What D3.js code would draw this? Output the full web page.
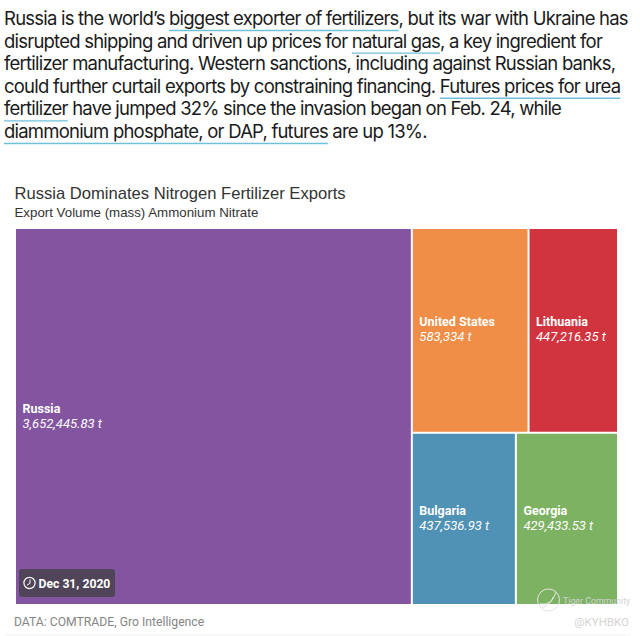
<!DOCTYPE html>
<html>
<head>
<meta charset="utf-8">
<script src="https://cdnjs.cloudflare.com/ajax/libs/d3/7.8.5/d3.min.js"></script>
<style>
    html, body { margin: 0; padding: 0; background: #fff; }
    #chart { width: 640px; height: 636px; overflow: hidden; }
    svg { display: block; }
    .intro { font-family: Inter, sans-serif; font-size: 18.5px; fill: #1a1a1a; letter-spacing: -0.78px; }
    .title { font-family: "Liberation Sans", sans-serif; font-size: 16.6px; fill: #333; }
    .subtitle { font-family: "Liberation Sans", sans-serif; font-size: 13.3px; fill: #333; }
    .name { font-family: Roboto, sans-serif; font-size: 12.5px; font-weight: 700; fill: #fff; }
    .amount { font-family: Roboto, sans-serif; font-size: 13px; font-style: italic; fill: #fff; }
    .source { font-family: Roboto, sans-serif; font-size: 12.2px; fill: #858585; }
    .mark { font-family: Roboto, sans-serif; font-size: 8.8px; fill: #d4d4d4; }
</style>
</head>
<body>
<div id="chart"></div>
<script>
const introLines = [
    "Russia is the world’s biggest exporter of fertilizers, but its war with Ukraine has",
    "disrupted shipping and driven up prices for natural gas, a key ingredient for",
    "fertilizer manufacturing. Western sanctions, including against Russian banks,",
    "could further curtail exports by constraining financing. Futures prices for urea",
    "fertilizer have jumped 32% since the invasion began on Feb. 24, while",
    "diammonium phosphate, or DAP, futures are up 13%."
];
// [line index, linked phrase]
const links = [
    [0, "biggest exporter of fertilizers"],
    [1, "natural gas"],
    [3, "Futures prices for urea"],
    [4, "fertilizer"],
    [5, "diammonium phosphate, or DAP, futures"]
];

const countries = ["Russia", "United States", "Lithuania", "Bulgaria", "Georgia"];
const volumes = [3652445.83, 583334, 447216.35, 437536.93, 429433.53];
const volumeLabels = ["3,652,445.83 t", "583,334 t", "447,216.35 t", "437,536.93 t", "429,433.53 t"];
const colors = ["#8355a0", "#f08d46", "#d1343f", "#4f92b6", "#7cb262"];

const width = 640;
const height = 636;
const margin = {top: 229, left: 16, right: 23, bottom: 32};

const svg = d3.select("#chart")
    .append("svg")
    .attr("width", width)
    .attr("height", height);

// Intro paragraph
const lineY = d3.scaleLinear().domain([0, 5]).range([25, 138]);

const intro = svg.selectAll(".intro")
    .data(introLines)
    .enter()
    .append("text")
        .attr("class", "intro")
        .attr("x", 4)
        .attr("y", function(d, i) { return lineY(i); })
        .text(function(d) { return d; });

// Underlines are measured off the rendered text
links.forEach(function(l) {
    const node = intro.nodes()[l[0]];
    const start = introLines[l[0]].indexOf(l[1]);
    const x0 = 4 + (start > 0 ? node.getSubStringLength(0, start) : 0);
    const x1 = x0 + node.getSubStringLength(start, l[1].length);
    svg.append("line")
        .attr("x1", x0)
        .attr("x2", x1)
        .attr("y1", lineY(l[0]) + 5.5)
        .attr("y2", lineY(l[0]) + 5.5)
        .attr("stroke", "#6fc0dc")
        .attr("stroke-width", 1.4);
});

// Title
svg.append("text").attr("class", "title").attr("x", 14.5).attr("y", 199)
    .text("Russia Dominates Nitrogen Fertilizer Exports");
svg.append("text").attr("class", "subtitle").attr("x", 14.5).attr("y", 217)
    .text("Export Volume (mass) Ammonium Nitrate");

// Treemap
const root = d3.hierarchy({children: countries.map(function(c, i) { return {index: i}; })})
    .sum(function(d) { return d.children ? 0 : volumes[d.index]; });

d3.treemap()
    .tile(d3.treemapBinary)
    .size([width - margin.left - margin.right, height - margin.top - margin.bottom])
    .paddingInner(2)
    .round(false)(root);

const cell = svg.selectAll(".cell")
    .data(root.leaves())
    .enter()
    .append("g")
        .attr("class", "cell")
        .attr("transform", function(d) {
            return `translate(${margin.left + d.x0},${margin.top + d.y0})`;
        });

cell.append("rect")
    .attr("width", function(d) { return d.x1 - d.x0; })
    .attr("height", function(d) { return d.y1 - d.y0; })
    .attr("fill", function(d) { return colors[d.data.index]; });

cell.append("text")
    .attr("class", "name")
    .attr("x", 6.5)
    .attr("y", function(d) { return (d.y1 - d.y0) / 2 - 4; })
    .text(function(d) { return countries[d.data.index]; });

cell.append("text")
    .attr("class", "amount")
    .attr("x", 6.5)
    .attr("y", function(d) { return (d.y1 - d.y0) / 2 + 11; })
    .text(function(d) { return volumeLabels[d.data.index]; });

// Date badge
const badge = svg.append("g").attr("transform", "translate(19,569)");
badge.append("rect")
    .attr("width", 96)
    .attr("height", 28)
    .attr("rx", 3)
    .attr("fill", "#4f4458");
badge.append("circle")
    .attr("cx", 10.5).attr("cy", 14).attr("r", 5.6)
    .attr("fill", "none").attr("stroke", "#fff").attr("stroke-width", 1.2);
badge.append("path")
    .attr("d", "M11,10.5V14.3L8,16.2")
    .attr("fill", "none").attr("stroke", "#fff").attr("stroke-width", 1);
badge.append("text")
    .attr("x", 19.5)
    .attr("y", 18.5)
    .attr("font-family", "Roboto, sans-serif")
    .attr("font-size", 12.2)
    .attr("font-weight", 700)
    .attr("fill", "#fff")
    .text("Dec 31, 2020");

// Source
svg.append("text").attr("class", "source").attr("x", 14).attr("y", 626)
    .text("DATA: COMTRADE, Gro Intelligence");

// Watermark
const mark = svg.append("g");
mark.append("circle")
    .attr("cx", 548.5).attr("cy", 600).attr("r", 11)
    .attr("fill", "none").attr("stroke", "#e4e4e4").attr("stroke-width", 1);
mark.append("path")
    .attr("d", "M540,604Q552,606 556,592M541,608Q552,604 553,597")
    .attr("fill", "none").attr("stroke", "#e4e4e4").attr("stroke-width", 1);
mark.append("text").attr("class", "mark").attr("x", 563).attr("y", 604).text("Tiger Community");
mark.append("text").attr("class", "mark").attr("x", 629).attr("y", 626)
    .attr("text-anchor", "end").style("font-size", "11.5px").text("@KYHBKO");

svg.append("line")
    .attr("x1", 5).attr("x2", 630).attr("y1", 635).attr("y2", 635)
    .attr("stroke", "#f2f2f2");
</script>
</body>
</html>
